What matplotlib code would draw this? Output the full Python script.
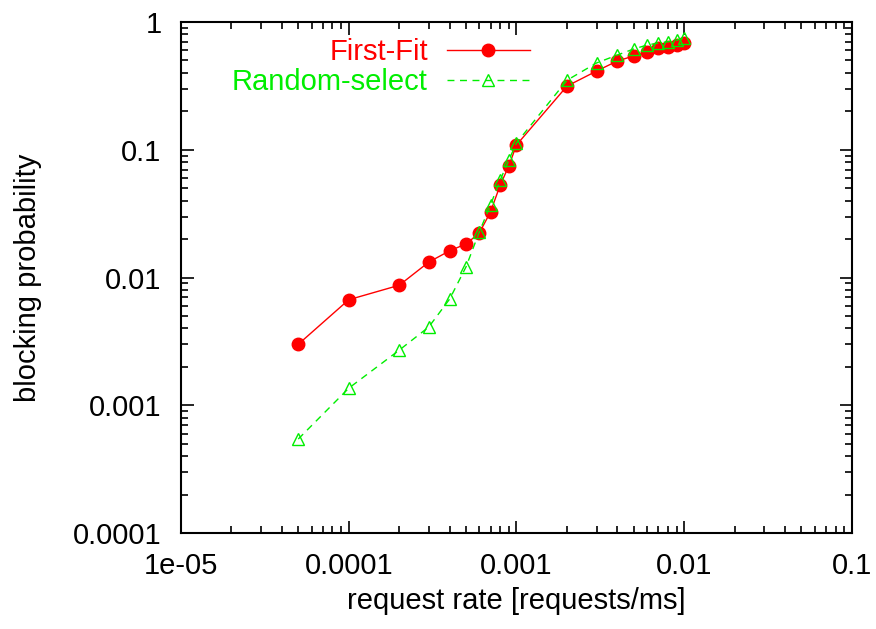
import numpy as np
import matplotlib.pyplot as plt

plt.rcParams['font.family'] = ['Liberation Sans', 'DejaVu Sans']

rates = [5e-5, 1e-4, 2e-4, 3e-4, 4e-4, 5e-4, 6e-4, 7e-4, 8e-4, 9e-4,
         1e-3, 2e-3, 3e-3, 4e-3, 5e-3, 6e-3, 7e-3, 8e-3, 9e-3, 1e-2]
first_fit = [0.0030, 0.0067, 0.0087, 0.0132, 0.0162, 0.0183, 0.0223, 0.0326,
             0.053, 0.0746, 0.109, 0.315, 0.413, 0.496, 0.542, 0.58, 0.625,
             0.64, 0.66, 0.685]
random_select = [0.000544, 0.00136, 0.0027, 0.0041, 0.0068, 0.0121, 0.0227,
                 0.037, 0.058, 0.083, 0.113, 0.35, 0.478, 0.552, 0.615, 0.66,
                 0.685, 0.70, 0.72, 0.75]

xticks = [1e-5, 1e-4, 1e-3, 1e-2, 1e-1]
xlabels = ['1e-05', '0.0001', '0.001', '0.01', '0.1']
yticks = [1e-4, 1e-3, 1e-2, 1e-1, 1]
ylabels = ['0.0001', '0.001', '0.01', '0.1', '1']

red = '#ff0000'
green = '#00ee00'
fs = 21

fig = plt.figure(figsize=(8.76, 6.29), dpi=100)
ax = fig.add_axes([0.2066, 0.1526, 0.766, 0.8124])

ax.plot(rates, first_fit, '-', color=red, lw=1, marker='o', ms=9,
        mfc=red, mec=red, label='First-Fit')
ax.plot(rates, random_select, '--', color=green, lw=1, marker='^', ms=9,
        mfc='none', mec=green, mew=1, dashes=(5, 4), label='Random-select')

ax.set_xscale('log')
ax.set_yscale('log')
ax.set_xlim(1e-5, 0.1)
ax.set_ylim(1e-4, 1)
ax.set_xticks(xticks)
ax.set_xticklabels(xlabels)
ax.set_yticks(yticks)
ax.set_yticklabels(ylabels)

ax.tick_params(which='both', direction='in', top=True, right=True,
               labelsize=fs, width=1.2)
ax.tick_params(which='major', length=9)
ax.tick_params(which='minor', length=5)
ax.tick_params(axis='x', which='major', pad=14)
ax.tick_params(axis='y', which='major', pad=14)
for s in ax.spines.values():
    s.set_linewidth(1.5)

ax.set_xlabel('request rate [requests/ms]', fontsize=fs, labelpad=5)
ax.set_ylabel('blocking probability', fontsize=fs, labelpad=22)

leg = ax.legend(loc='upper right', bbox_to_anchor=(0.52, 0.968),
                frameon=False, markerfirst=False, numpoints=1,
                handlelength=2.85, fontsize=fs, labelspacing=0.05,
                handletextpad=0.65, labelcolor='linecolor',
                borderaxespad=0, borderpad=0)

fig.savefig('out.png')
